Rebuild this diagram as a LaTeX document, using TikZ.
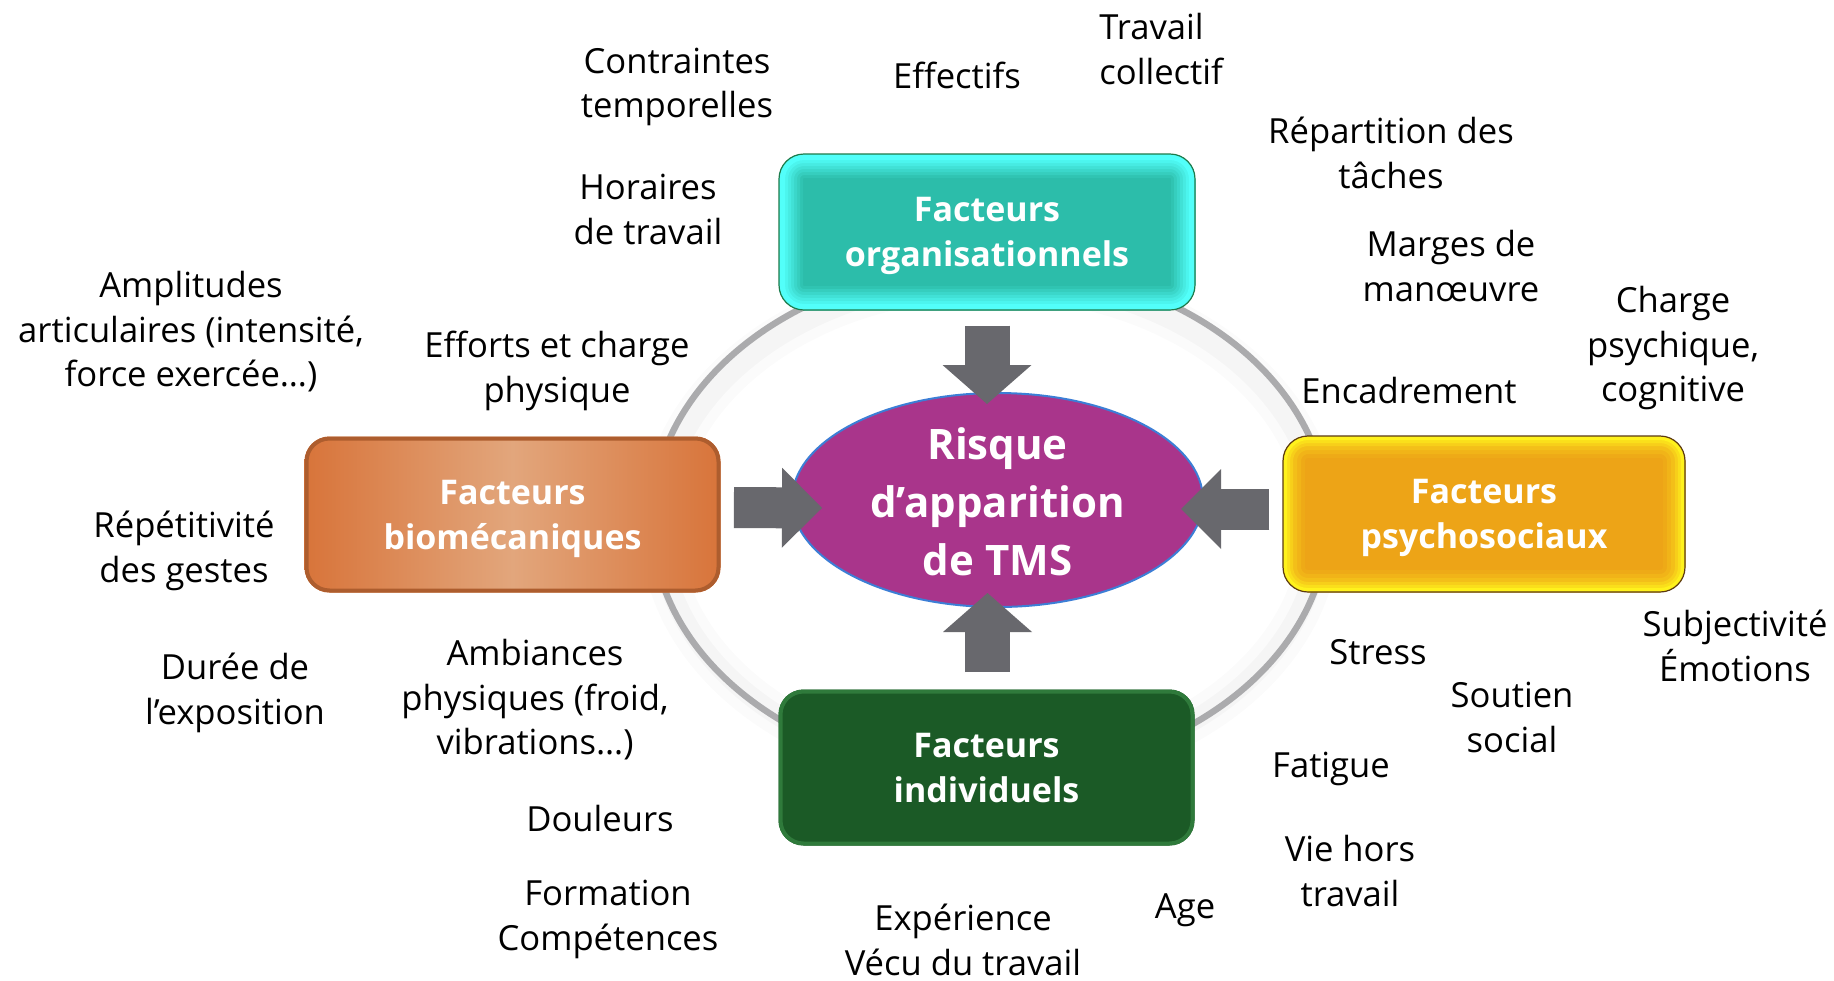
\documentclass[tikz,border=0pt]{standalone}
\usepackage{fontspec}
\setmainfont{Open Sans}
\usetikzlibrary{arrows.meta,calc,shapes.geometric}

\definecolor{orgafond}{HTML}{2CBDAA}
\definecolor{orgalueur}{HTML}{52FFFA}
\definecolor{orgatrait}{HTML}{1E7A4A}
\definecolor{psyfond}{HTML}{EDA417}
\definecolor{psylueur}{HTML}{FFF21C}
\definecolor{psytrait}{HTML}{5C3A12}
\definecolor{biobord}{HTML}{D8743A}
\definecolor{biomilieu}{HTML}{E2A67C}
\definecolor{indivfond}{HTML}{1B5A26}
\definecolor{indivbord}{HTML}{2F7A3B}
\definecolor{risquefond}{HTML}{A9358B}
\definecolor{risquetrait}{HTML}{3C7ED6}
\definecolor{anneaugris}{HTML}{ABABAD}
\definecolor{flechegris}{HTML}{68686D}

\begin{document}
\begin{tikzpicture}[x=0.5pt, y=-0.5pt]
        \tikzstyle{every node}=[inner sep=0pt]
        \tikzstyle{etiq}=[align=center, text depth=0pt, font=\fontsize{17.3}{22.3}\selectfont]
        \tikzstyle{boite}=[rectangle, rounded corners=12.5pt, minimum width=208pt, minimum height=78pt, text depth=0pt, align=center, text=white, font=\fontsize{17}{22.5}\selectfont\bfseries]
        \tikzstyle{orga}=[boite, fill=orgafond, draw=orgatrait, line width=0.6pt,
                path picture={\foreach \w/\m in {24/10, 21/25, 18/40, 15/55, 12/70, 9/85, 6/100}
                                \draw[orgalueur!\m!orgafond, line width=\w pt, rounded corners=12.5pt] (path picture bounding box.south west) rectangle (path picture bounding box.north east);}]
        \tikzstyle{psy}=[boite, minimum width=201pt, fill=psyfond, draw=psytrait, line width=0.6pt,
                path picture={\foreach \w/\m in {22/8, 18/20, 14/35, 10/55, 7/75, 4/100}
                                \draw[psylueur!\m!psyfond, line width=\w pt, rounded corners=12.5pt] (path picture bounding box.south west) rectangle (path picture bounding box.north east);}]
        \tikzstyle{bio}=[boite, left color=biobord, right color=biobord, middle color=biomilieu,
                path picture={\draw[biobord!80!black, line width=4pt, rounded corners=12.5pt] (path picture bounding box.south west) rectangle (path picture bounding box.north east);}]
        \tikzstyle{indiv}=[boite, fill=indivfond,
                path picture={\draw[indivbord, line width=4pt, rounded corners=12.5pt] (path picture bounding box.south west) rectangle (path picture bounding box.north east);}]
        \tikzstyle{risque}=[ellipse, fill=risquefond, draw=risquetrait, line width=1pt, minimum width=205.5pt, minimum height=107pt]
        \tikzstyle{risquetxt}=[align=center, text=white, font=\fontsize{21}{29}\selectfont\bfseries]
        \tikzstyle{anneau}=[draw=anneaugris, line width=3.2pt]
        \tikzstyle{flechev}=[draw=flechegris, line width=22.5pt, -{Triangle[width=44.5pt, length=19.5pt, line width=0pt]}]
        \tikzstyle{flecheh}=[draw=flechegris, line width=20.5pt, -{Triangle[width=40pt, length=20pt, line width=0pt]}]

% Schema des facteurs de risque de TMS autour du risque central.

        \useasboundingbox[fill=white] (0,0) rectangle (1834,980);

        \coordinate (centre) at (990,520);
        \foreach \w/\o in {20/0.015, 10/0.025}
                \draw[black, opacity=\o, line width=\w pt] ($(centre)+(0,6)$) ellipse [x radius=330, y radius=247];
        \draw[anneau] (centre) ellipse [x radius=338, y radius=255];

        \node[orga] (orga) at (987,232) {Facteurs\\organisationnels};
        \node[bio] (bio) at (512.5,514.5) {Facteurs\\biomécaniques};
        \node[psy] (psy) at (1484,514) {Facteurs\\psychosociaux};
        \node[indiv] (indiv) at (986.5,767.5) {Facteurs\\individuels};
        \node[risque] (risque) at (997.5,500) {};
        \node[risquetxt] (risquetxt) at ($(risque.center)+(0,2)$) {Risque\\d’apparition\\de TMS};

        \draw[flechev] ($(orga.south)+(0,15)$) -- ($(orga.south |- risque.north)+(0,12)$);
        \draw[flechev] ($(indiv.north)+(1,-17)$) -- ($(indiv.north |- risque.south)+(1,-15)$);
        \draw[flecheh] ($(bio.east)+(13,-7)$) -- ($(risque.west)+(31,8)$);
        \draw[flecheh] ($(psy.west)+(-13,-5)$) -- ($(risque.east)+(-23,9)$);

        \node[etiq] (contraintes) at (677,83) {Contraintes\\temporelles};
        \node[etiq] (effectifs) at (957,75) {Effectifs};
        \node[etiq, align=left, anchor=west] (collectif) at (1099,49) {Travail\\collectif};
        \node[etiq] (repartition) at (1391,153) {Répartition des\\tâches};
        \node[etiq] (horaires) at (648,209) {Horaires\\de travail};
        \node[etiq] (marges) at (1451,266) {Marges de\\manœuvre};
        \node[etiq] (amplitudes) at (191,329) {Amplitudes\\articulaires (intensité,\\force exercée…)};
        \node[etiq] (efforts) at (557,367) {Efforts et charge\\physique};
        \node[etiq] (charge) at (1673,344) {Charge\\psychique,\\cognitive};
        \node[etiq] (encadrement) at (1409,390) {Encadrement};
        \node[etiq] (repetitivite) at (184,547) {Répétitivité\\des gestes};
        \node[etiq] (subjectivite) at (1735,646) {Subjectivité\\Émotions};
        \node[etiq] (duree) at (235,689) {Durée de\\l’exposition};
        \node[etiq] (ambiances) at (535,697) {Ambiances\\physiques (froid,\\vibrations…)};
        \node[etiq] (stress) at (1378,652) {Stress};
        \node[etiq] (soutien) at (1512,717) {Soutien\\social};
        \node[etiq] (fatigue) at (1331,765) {Fatigue};
        \node[etiq] (douleurs) at (600,818) {Douleurs};
        \node[etiq] (viehors) at (1350,871) {Vie hors\\travail};
        \node[etiq] (age) at (1185,906) {Age};
        \node[etiq] (formation) at (608,915) {Formation\\Compétences};
        \node[etiq] (experience) at (963,940) {Expérience\\Vécu du travail};

    \end{tikzpicture}
\end{document}
